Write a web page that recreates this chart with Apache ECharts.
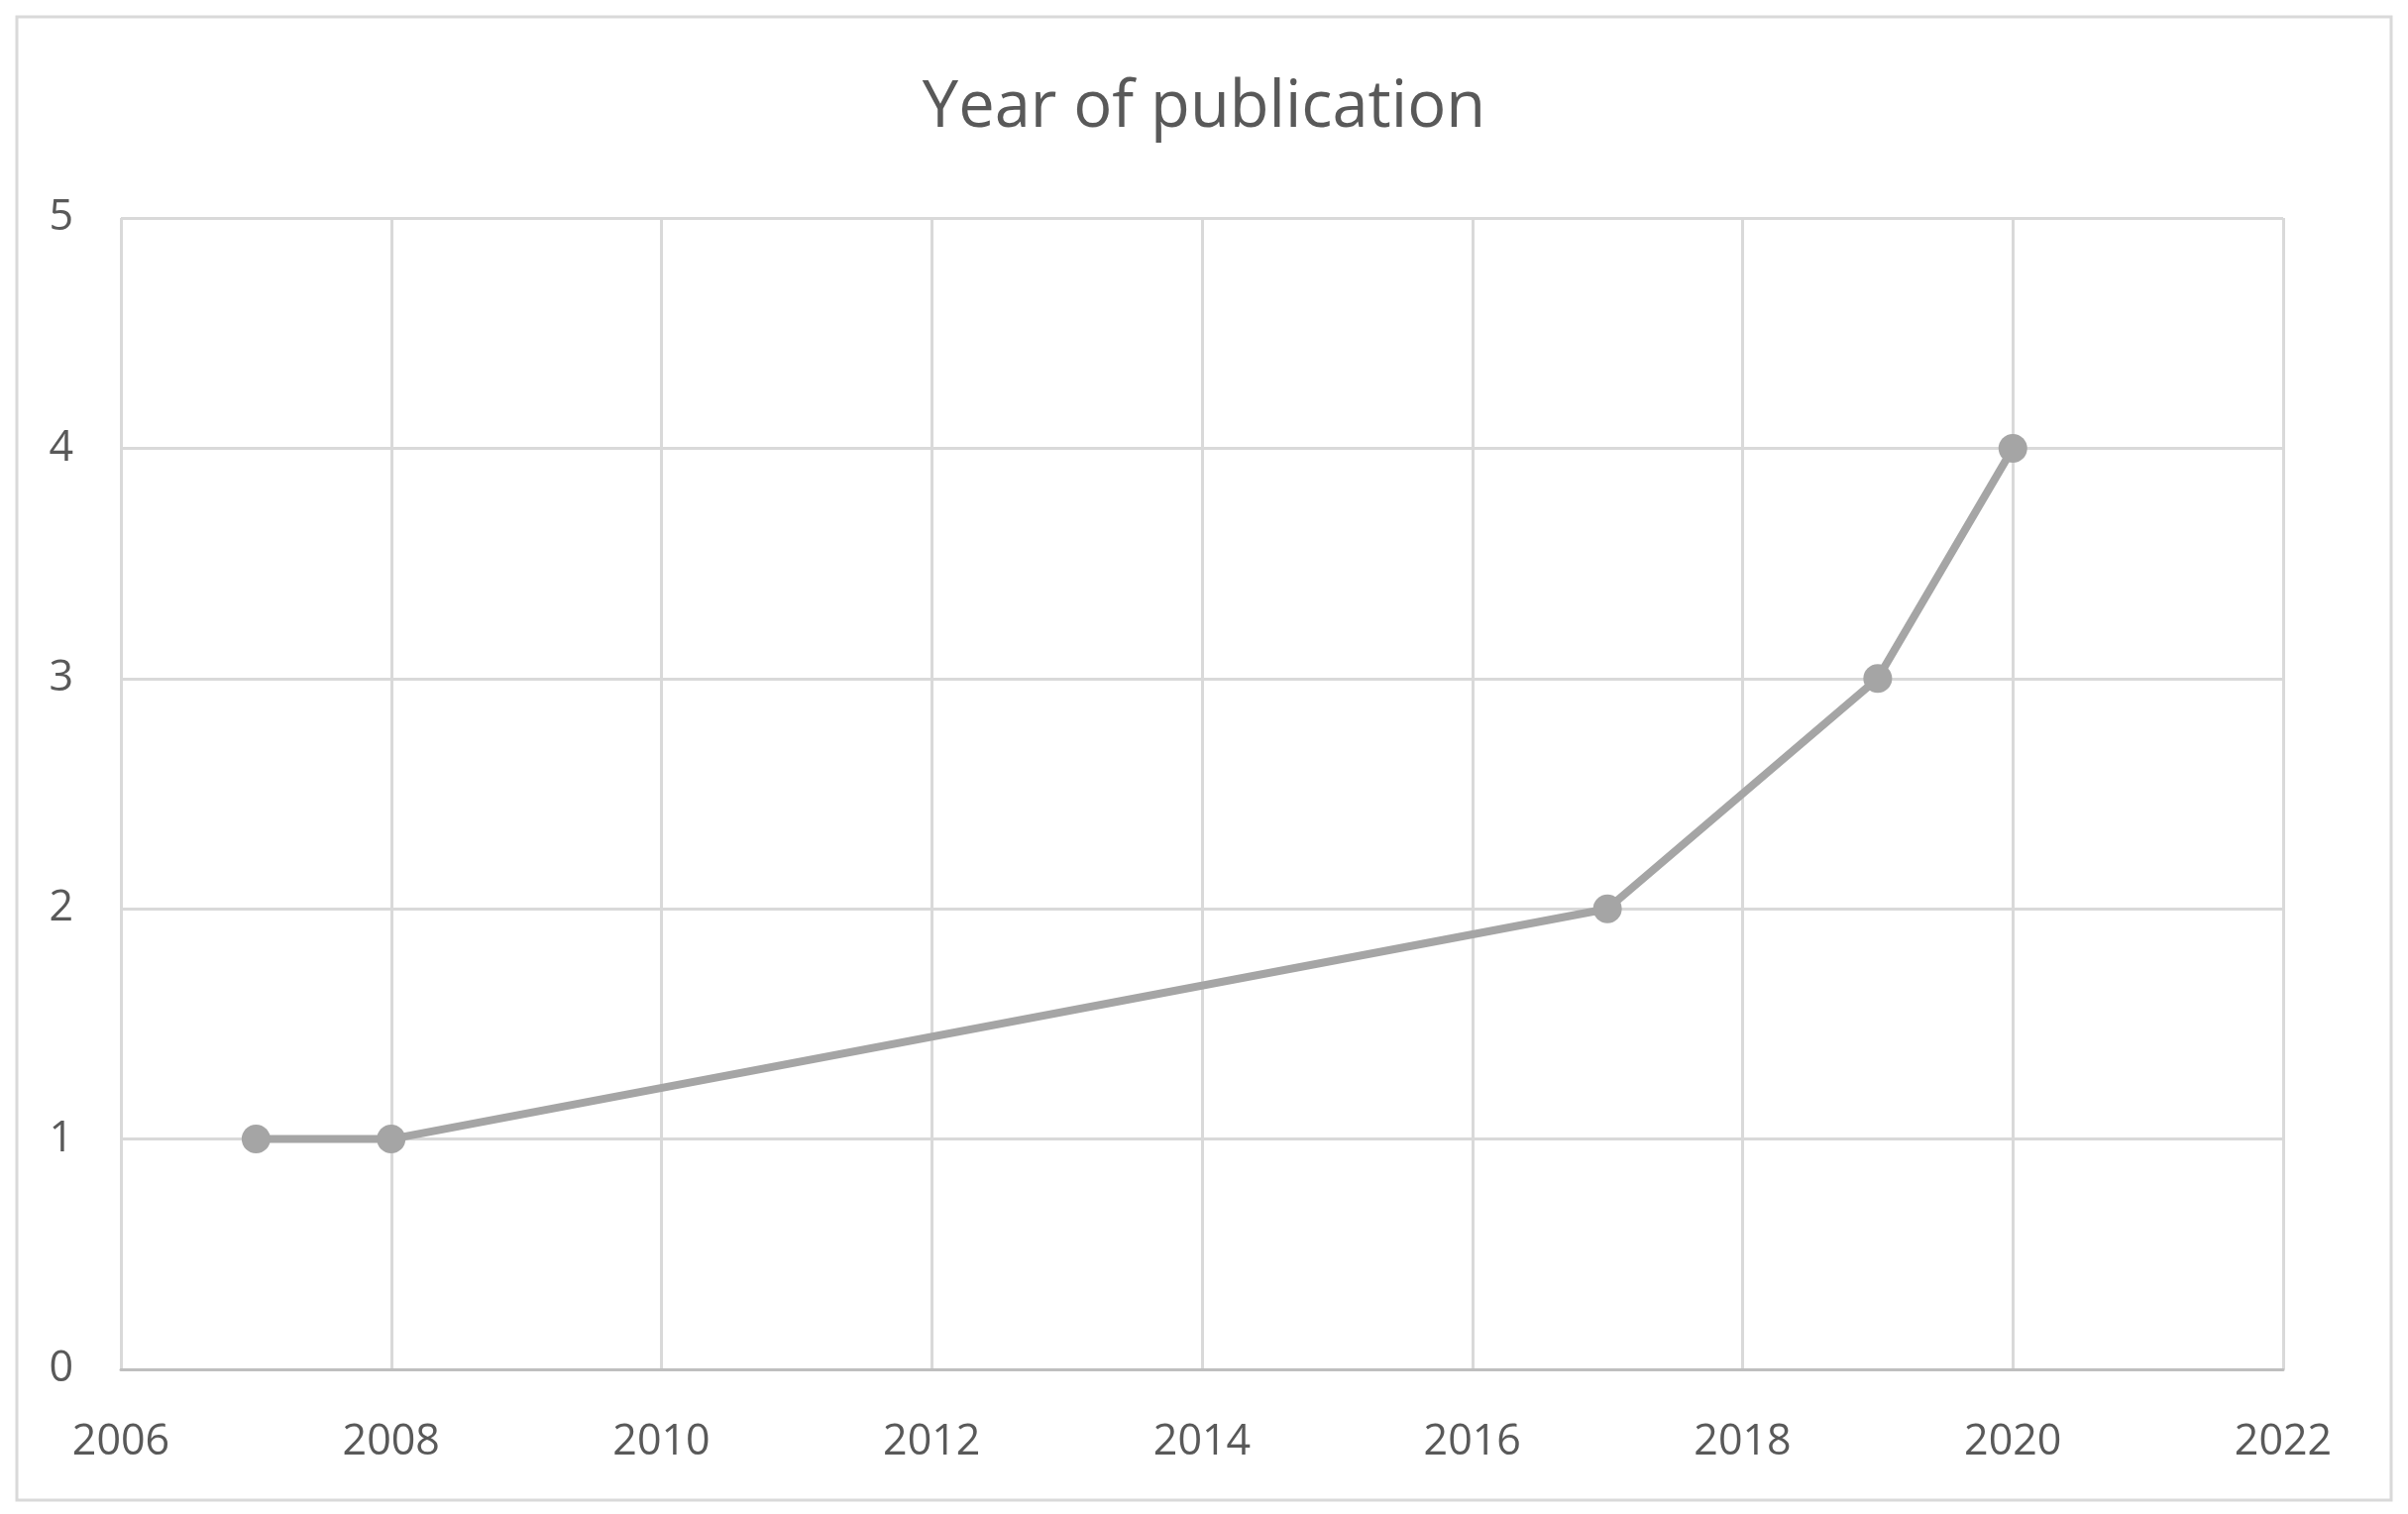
<!DOCTYPE html>
<html>
<head>
<meta charset="utf-8">
<script src="https://cdn.jsdelivr.net/npm/echarts@6/dist/echarts.min.js"></script>
<style>
    html, body { margin: 0; padding: 0; background: #fff; }
    #chart { width: 2430px; height: 1528px; }
</style>
</head>
<body>
<div id="chart"></div>
<script>
// 数据
const years = [2007, 2008, 2017, 2019, 2020];
const counts = [1, 1, 2, 3, 4];
const titleText = "Year of publication";

const chart = echarts.init(document.getElementById('chart'));
const textColor = '#595959';
const gridColor = '#d9d9d9';

const points = [];
for (let i = 0; i < years.length; i++) {
    points.push([years[i], counts[i]]);
}

const option = {
    backgroundColor: '#fff',
    animation: false,
    textStyle: { fontFamily: 'Open Sans' },
    title: {
        text: titleText,
        left: 'center',
        top: 72,
        textStyle: {
            fontFamily: 'Open Sans',
            fontSize: 65,
            fontWeight: 'normal',
            color: textColor
        }
    },
    graphic: [{
        type: 'rect',
        shape: { x: 17, y: 17, width: 2396, height: 1497 },
        style: { fill: 'none', stroke: gridColor, lineWidth: 3 },
        silent: true
    }],
    grid: {
        left: 122,
        right: 126,
        top: 220,
        bottom: 146,
        containLabel: false
    },
    xAxis: {
        type: 'value',
        min: 2006,
        max: 2022,
        interval: 2,
        axisLine: { show: true, lineStyle: { color: '#bfbfbf', width: 3 } },
        axisTick: { show: false },
        splitLine: { show: true, lineStyle: { color: gridColor, width: 3 } },
        axisLabel: {
            color: textColor,
            fontSize: 43,
            margin: 52,
            formatter: function (v) { return String(v); }
        }
    },
    yAxis: {
        type: 'value',
        min: 0,
        max: 5,
        interval: 1,
        axisLine: { show: false },
        axisTick: { show: false },
        splitLine: { show: true, lineStyle: { color: gridColor, width: 3 } },
        axisLabel: {
            color: textColor,
            fontSize: 43,
            margin: 48
        }
    },
    series: [{
        type: 'line',
        data: points,
        symbol: 'circle',
        symbolSize: 29,
        lineStyle: { color: '#a5a5a5', width: 8 },
        itemStyle: { color: '#a5a5a5' }
    }]
};

chart.setOption(option);
</script>
</body>
</html>
